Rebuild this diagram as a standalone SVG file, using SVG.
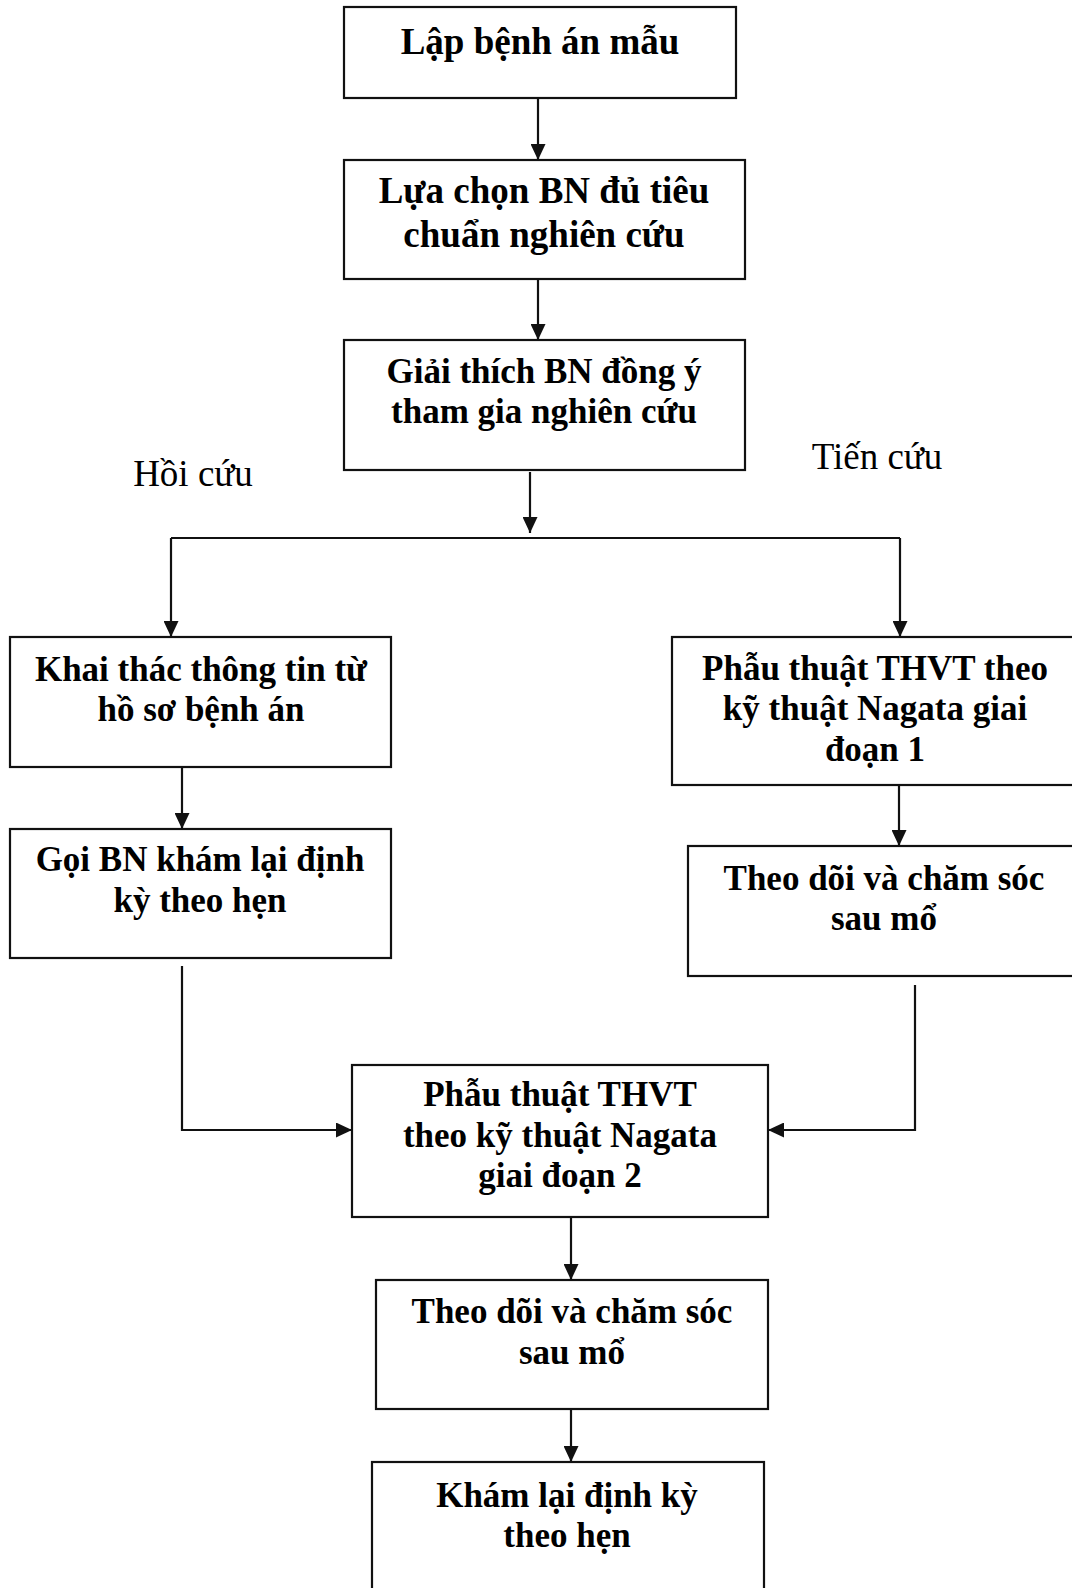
<svg xmlns="http://www.w3.org/2000/svg" width="1072" height="1588" viewBox="0 0 1072 1588">
<style>
.box{fill:#fff;stroke:#111;stroke-width:2.2}
.t{font-family:"Liberation Serif","Times New Roman",serif;font-weight:bold;font-size:35px;fill:#000;text-anchor:middle}
.big{font-size:37px}
.lab{font-family:"Liberation Serif","Times New Roman",serif;font-size:37px;fill:#000;text-anchor:middle}
.c{fill:none;stroke:#111;stroke-width:2.2}
</style>
<defs>
<marker id="ah" markerUnits="userSpaceOnUse" markerWidth="16" markerHeight="15" refX="16" refY="7.5" orient="auto">
<path d="M0,0 L16,7.5 L0,15 z" fill="#111"/>
</marker>
</defs>
<rect width="1072" height="1588" fill="#fff"/>
<g id="connectors">
<path class="c" d="M538,98 V160" marker-end="url(#ah)"/>
<path class="c" d="M538,279 V340" marker-end="url(#ah)"/>
<path class="c" d="M530,472 V533" marker-end="url(#ah)"/>
<path class="c" d="M171,538 H900"/>
<path class="c" d="M171,538 V637" marker-end="url(#ah)"/>
<path class="c" d="M900,538 V637" marker-end="url(#ah)"/>
<path class="c" d="M182,767 V829" marker-end="url(#ah)"/>
<path class="c" d="M899,785 V846" marker-end="url(#ah)"/>
<path class="c" d="M182,966 V1130 H352" marker-end="url(#ah)"/>
<path class="c" d="M915,985 V1130 H768" marker-end="url(#ah)"/>
<path class="c" d="M571,1217 V1280" marker-end="url(#ah)"/>
<path class="c" d="M571,1409 V1462" marker-end="url(#ah)"/>
</g>
<g id="n1"><rect class="box" x="344" y="7" width="392" height="91"/><text class="t big" x="540" y="54">Lập bệnh án mẫu</text></g>
<g id="n2"><rect class="box" x="344" y="160" width="401" height="119"/><text class="t big" x="544" y="203">Lựa chọn BN đủ tiêu</text><text class="t big" x="544" y="247">chuẩn nghiên cứu</text></g>
<g id="n3"><rect class="box" x="344" y="340" width="401" height="130"/><text class="t" x="544" y="383">Giải thích BN đồng ý</text><text class="t" x="544" y="423">tham gia nghiên cứu</text></g>
<g id="l1"><text class="lab" x="193" y="486">Hồi cứu</text></g>
<g id="l2"><text class="lab" x="877" y="469">Tiến cứu</text></g>
<g id="n4"><rect class="box" x="10" y="637" width="381" height="130"/><text class="t" x="201" y="681">Khai thác thông tin từ</text><text class="t" x="201" y="721">hồ sơ bệnh án</text></g>
<g id="n5"><rect class="box" x="10" y="829" width="381" height="129"/><text class="t" x="200" y="871">Gọi BN khám lại định</text><text class="t" x="200" y="912">kỳ theo hẹn</text></g>
<g id="n6"><rect class="box" x="672" y="637" width="420" height="148"/><text class="t" x="875" y="680">Phẫu thuật THVT theo</text><text class="t" x="875" y="720">kỹ thuật Nagata giai</text><text class="t" x="875" y="761">đoạn 1</text></g>
<g id="n7"><rect class="box" x="688" y="846" width="404" height="130"/><text class="t" x="884" y="890">Theo dõi và chăm sóc</text><text class="t" x="884" y="930">sau mổ</text></g>
<g id="n8"><rect class="box" x="352" y="1065" width="416" height="152"/><text class="t" x="560" y="1106">Phẫu thuật THVT</text><text class="t" x="560" y="1147">theo kỹ thuật Nagata</text><text class="t" x="560" y="1187">giai đoạn 2</text></g>
<g id="n9"><rect class="box" x="376" y="1280" width="392" height="129"/><text class="t" x="572" y="1323">Theo dõi và chăm sóc</text><text class="t" x="572" y="1364">sau mổ</text></g>
<g id="n10"><rect class="box" x="372" y="1462" width="392" height="140"/><text class="t" x="567" y="1507">Khám lại định kỳ</text><text class="t" x="567" y="1547">theo hẹn</text></g>
</svg>
